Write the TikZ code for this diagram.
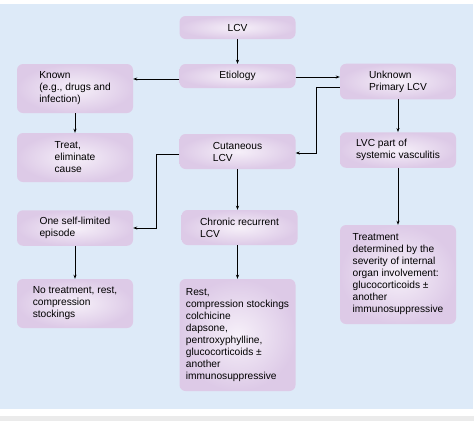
\documentclass[tikz,border=0pt]{standalone}
\usepackage{fontspec}
\setmainfont{Liberation Sans}
\usepackage{tikz}
\usetikzlibrary{arrows.meta, positioning, calc}

\definecolor{panelblue}{HTML}{DDEAF8}
\definecolor{boxedge}{HTML}{DDCAE7}
\definecolor{boxmid}{HTML}{F6F0F9}
\definecolor{capgrey}{HTML}{EBEBEB}

\tikzset{
  box/.style={rectangle, rounded corners=6pt, inner color=boxmid, outer color=boxedge,
    minimum width=116pt, align=left, inner xsep=4pt, inner ysep=7pt,
    font=\fontsize{10.2}{12}\selectfont},
  link/.style={-{Stealth[length=4pt,width=3pt]}, line width=0.8pt}
}

\begin{document}
\begin{tikzpicture}[x=1pt, y=-1pt]
		\useasboundingbox (0,0) rectangle (474,421);
		% Background panel and caption strip
		\fill[panelblue] (0,4) rectangle (473,409);
		\fill[capgrey] (0,416) rectangle (474,421);
		
		% Define the nodes
		\node (lcv) [box, minimum height=23pt] at (237.5,27.5) {LCV};
		\node (etiology) [box, minimum height=24pt] at (237.5,76) {Etiology};
		\node (known) [box, minimum height=49pt] at (75,88.5) {Known\\(e.g., drugs and\\infection)};
		\node (unknown) [box, minimum height=35pt] at (398,81.5) {Unknown\\Primary LCV};
		
		\node (treat) [box, minimum height=49pt] at (75,157.5) {Treat,\\eliminate\\cause};
		\node (cutaneous) [box, minimum height=35pt] at (237.5,151.5) {Cutaneous\\LCV};
		\node (systemic) [box, minimum height=34pt] at (398,150) {LVC part of\\systemic vasculitis};
		
		\node (episode) [box, minimum height=34pt] at (75,228) {One self-limited\\episode};
		\node (chronic) [box, minimum height=35pt] at (239.5,227.5) {Chronic recurrent\\LCV};
		\node (organ) [box, minimum height=99pt] at (398,274.5) {Treatment\\determined by the\\severity of internal\\organ involvement:\\glucocorticoids ±\\another\\immunosuppressive};
		
		\node (notreat) [box, minimum height=49pt] at (75,303.5) {No treatment, rest,\\compression\\stockings};
		\node (rest) [box, minimum height=112pt] at (237.5,335) {Rest,\\compression stockings\\colchicine\\dapsone,\\pentroxyphylline,\\glucocorticoids ±\\another\\immunosuppressive};
		
		% Connect the nodes with arrows
		\draw[link] (lcv) -- (etiology);
		\draw[link] ([yshift=-3pt]etiology.west) -- ([yshift=-3pt]etiology.west -| known.east);
		\draw[link] ([yshift=-1pt]etiology.east) -- ([yshift=-1pt]etiology.east -| unknown.west);
		\draw[link] (known) -- (treat);
		\draw[link] (unknown) -- (systemic);
		\draw[link] ([yshift=-5.5pt]unknown.west) -- ++(-23,0) |- ([yshift=-1.5pt]cutaneous.east);
		\draw[link] ([yshift=-2.5pt]cutaneous.west) -- ++(-23,0) |- (episode.east);
		\draw[link] (cutaneous.south) -- (cutaneous.south |- chronic.north);
		\draw[link] (systemic) -- (organ);
		\draw[link] (episode) -- (notreat);
		\draw[link] (rest.north |- chronic.south) -- (rest.north);
	\end{tikzpicture}
\end{document}
